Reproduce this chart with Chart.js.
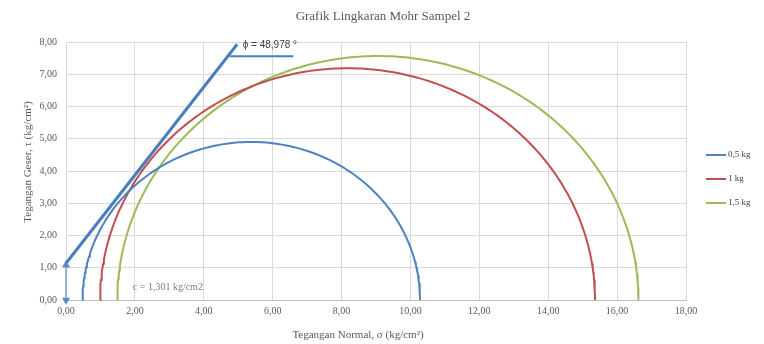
<!DOCTYPE html>
<html>
<head>
<meta charset="utf-8">
<script src="https://cdn.jsdelivr.net/npm/chart.js@4.4.1/dist/chart.umd.min.js"></script>
<style>
  html, body { margin: 0; padding: 0; background: #fff; }
  #wrap { width: 764px; height: 344px; }
</style>
</head>
<body>
<div id="wrap"><canvas id="mohr"></canvas></div>
<script>
// Mohr circles: minor / major principal stress per load
const seriesLabels = ['0,5 kg', '1 kg', '1,5 kg'];
const sigma3 = [0.48, 0.99, 1.49];
const sigma1 = [10.28, 15.36, 16.62];
const seriesColors = ['#4f81bd', '#c0504d', '#9bbb59'];

// failure envelope and its markers
const envelopeX = [0, 4.97];
const envelopeY = [1.14, 7.93];
const phiMarkX = [4.75, 6.6];
const phiMarkY = [7.56, 7.56];
const cohesionX = [0, 0];
const cohesionY = [1.08, 0];

const xTickValues = [0, 2, 4, 6, 8, 10, 12, 14, 16, 18];
const yTickValues = [0, 1, 2, 3, 4, 5, 6, 7, 8];

const chartTitle = 'Grafik Lingkaran Mohr Sampel 2';
const xTitle = 'Tegangan Normal, \u03c3 (kg/cm\u00b2)';
const yTitle = 'Tegangan Geser, \u03c4 (kg/cm\u00b2)';
const phiText = '\u03d5 = 48,978 \u00b0';
const cohesionText = 'c = 1,301 kg/cm2';

const serif = '"Liberation Serif", "Times New Roman", serif';
const fmt = v => v.toFixed(2).replace('.', ',');

// points along the upper half of each circle
function circlePoints(s3, s1) {
    const c = (s1 + s3) / 2, r = (s1 - s3) / 2;
    const pts = [];
    for (let i = 0; i <= 180; i++) {
        const a = Math.PI - i * Math.PI / 180;
        pts.push({ x: c + r * Math.cos(a), y: r * Math.sin(a) });
    }
    return pts;
}

const toPts = (xs, ys) => xs.map((x, i) => ({ x: x, y: ys[i] }));

const datasets = seriesLabels.map((label, i) => ({
    label: label,
    data: circlePoints(sigma3[i], sigma1[i]),
    borderColor: seriesColors[i],
    borderWidth: 2,
    pointRadius: 0,
    showLine: true,
    fill: false,
    clip: false
}));

datasets.push({
    label: 'envelope',
    data: toPts(envelopeX, envelopeY),
    borderColor: '#4a7ebb',
    borderWidth: 3,
    pointRadius: 0,
    showLine: true,
    clip: false
});
datasets.push({
    label: 'phi',
    data: toPts(phiMarkX, phiMarkY),
    borderColor: '#4a7ebb',
    borderWidth: 2,
    pointRadius: 0,
    showLine: true,
    clip: false
});
datasets.push({
    label: 'cohesion',
    data: toPts(cohesionX, cohesionY),
    borderColor: '#5b8ac6',
    backgroundColor: '#5b8ac6',
    borderWidth: 1.2,
    pointStyle: 'triangle',
    pointRadius: 3.5,
    pointRotation: [0, 180],
    showLine: true,
    clip: false
});

// titles, texts and legend drawn at fixed spots like the original
const extras = {
    id: 'extras',
    afterDatasetsDraw(chart) {
        const ctx = chart.ctx;
        const xs = chart.scales.x, ys = chart.scales.y;
        ctx.save();
        ctx.textBaseline = 'middle';

        ctx.textAlign = 'center';
        ctx.fillStyle = '#595959';
        ctx.font = '13px ' + serif;
        ctx.fillText(chartTitle, 383, 17);

        ctx.font = '11px ' + serif;
        ctx.fillText(xTitle, 358, 335);
        ctx.save();
        ctx.translate(28, 162);
        ctx.rotate(-Math.PI / 2);
        ctx.fillText(yTitle, 0, 0);
        ctx.restore();

        ctx.textAlign = 'left';
        ctx.fillStyle = '#404040';
        ctx.font = '10px "Liberation Sans", Arial, sans-serif';
        ctx.fillText(phiText, xs.getPixelForValue(5.13), ys.getPixelForValue(7.9));
        ctx.fillStyle = '#7f7f7f';
        ctx.font = '10px ' + serif;
        ctx.fillText(cohesionText, xs.getPixelForValue(1.94), ys.getPixelForValue(0.4));

        // legend
        const legendY = [155, 179, 203];
        ctx.font = '9px ' + serif;
        ctx.fillStyle = '#404040';
        seriesLabels.forEach((label, i) => {
            ctx.strokeStyle = seriesColors[i];
            ctx.lineWidth = 2;
            ctx.beginPath();
            ctx.moveTo(706, legendY[i]);
            ctx.lineTo(726, legendY[i]);
            ctx.stroke();
            ctx.fillText(label, 728, legendY[i]);
        });
        ctx.restore();
    }
};

const ctx = document.getElementById('mohr').getContext('2d');
const chart = new Chart(ctx, {
    type: 'scatter',
    data: { datasets: datasets },
    options: {
        responsive: true,
        maintainAspectRatio: false,
        animation: false,
        layout: { padding: { left: 0, right: 78, top: 42, bottom: 0 } },
        plugins: {
            legend: { display: false },
            tooltip: { enabled: false },
            title: { display: false }
        },
        scales: {
            x: {
                type: 'linear',
                min: 0,
                max: 18,
                afterBuildTicks: s => { s.ticks = xTickValues.map(v => ({ value: v })); },
                afterFit: s => { s.height = 44; },
                ticks: {
                    callback: v => fmt(v),
                    color: '#595959',
                    font: { family: serif, size: 10 },
                    padding: 5,
                    maxRotation: 0
                },
                grid: { color: '#d9d9d9', drawTicks: false },
                border: { display: true, color: '#bfbfbf' }
            },
            y: {
                type: 'linear',
                min: 0,
                max: 8,
                afterBuildTicks: s => { s.ticks = yTickValues.map(v => ({ value: v })); },
                afterFit: s => { s.width = 66; },
                ticks: {
                    callback: v => fmt(v),
                    color: '#595959',
                    font: { family: serif, size: 10 },
                    padding: 9
                },
                grid: { color: '#d9d9d9', drawTicks: false },
                border: { display: false }
            }
        }
    },
    plugins: [extras]
});
</script>
</body>
</html>
